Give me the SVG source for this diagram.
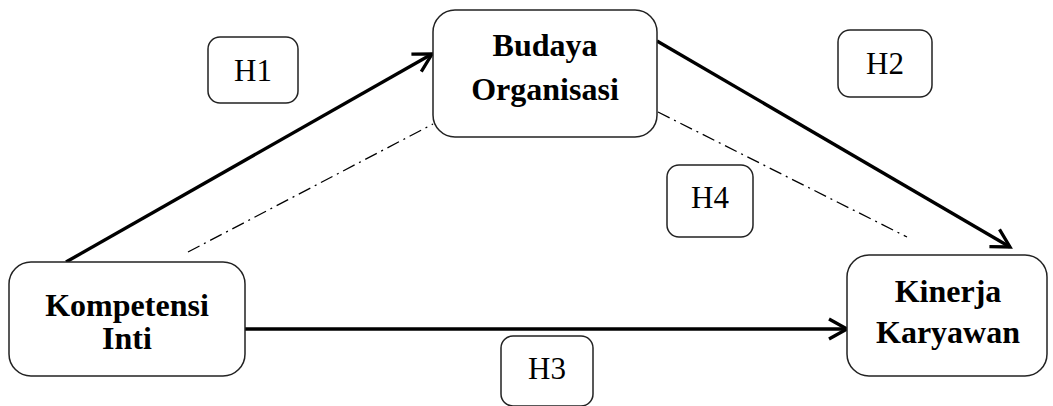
<svg xmlns="http://www.w3.org/2000/svg" width="1053" height="406" viewBox="0 0 1053 406">
<style>
.box{fill:#fff;stroke:#222;stroke-width:1.5}
.lbl{font-family:"Liberation Serif","Times New Roman",serif;font-size:32px;font-weight:bold;fill:#000;text-anchor:middle}
.h{font-family:"Liberation Serif","Times New Roman",serif;font-size:31px;fill:#000;text-anchor:middle}
.arrow{stroke:#000;stroke-width:3.3;fill:none;marker-end:url(#ah)}
.dd{stroke:#000;stroke-width:1.3;fill:none;stroke-dasharray:13 5 2 5}
</style>
<defs>
<marker id="ah" markerUnits="userSpaceOnUse" viewBox="0 0 24 24" markerWidth="24" markerHeight="24" refX="21" refY="12" orient="auto">
<path d="M3,2 L21,12 L3,22" fill="none" stroke="#000" stroke-width="3.3" stroke-linejoin="miter"/>
</marker>
</defs>
<g id="connectors">
<line class="arrow" x1="66" y1="262" x2="432" y2="54"/>
<line class="arrow" x1="657" y1="41" x2="1010" y2="247"/>
<line class="arrow" x1="245" y1="329" x2="847" y2="329"/>
<line class="dd" x1="188" y1="252" x2="433" y2="124"/>
<line class="dd" x1="658" y1="112" x2="907" y2="237"/>
</g>
<g id="budaya">
<rect class="box" x="433" y="10" width="224" height="127" rx="22"/>
<text class="lbl" x="545" y="56">Budaya</text>
<text class="lbl" x="545" y="100">Organisasi</text>
</g>
<g id="kompetensi">
<rect class="box" x="9" y="262" width="236" height="114" rx="22"/>
<text class="lbl" x="127" y="316">Kompetensi</text>
<text class="lbl" x="127" y="349">Inti</text>
</g>
<g id="kinerja">
<rect class="box" x="847" y="255" width="200" height="121" rx="22"/>
<text class="lbl" x="948" y="302">Kinerja</text>
<text class="lbl" x="948" y="343">Karyawan</text>
</g>
<g id="h1">
<rect class="box" x="208" y="37" width="90" height="66" rx="12"/>
<text class="h" x="253" y="81">H1</text>
</g>
<g id="h2">
<rect class="box" x="838" y="30" width="94" height="67" rx="12"/>
<text class="h" x="885" y="74">H2</text>
</g>
<g id="h4">
<rect class="box" x="667" y="165" width="86" height="72" rx="12"/>
<text class="h" x="710" y="208">H4</text>
</g>
<g id="h3">
<rect class="box" x="501" y="336" width="92" height="70" rx="12"/>
<text class="h" x="547" y="379">H3</text>
</g>
</svg>
